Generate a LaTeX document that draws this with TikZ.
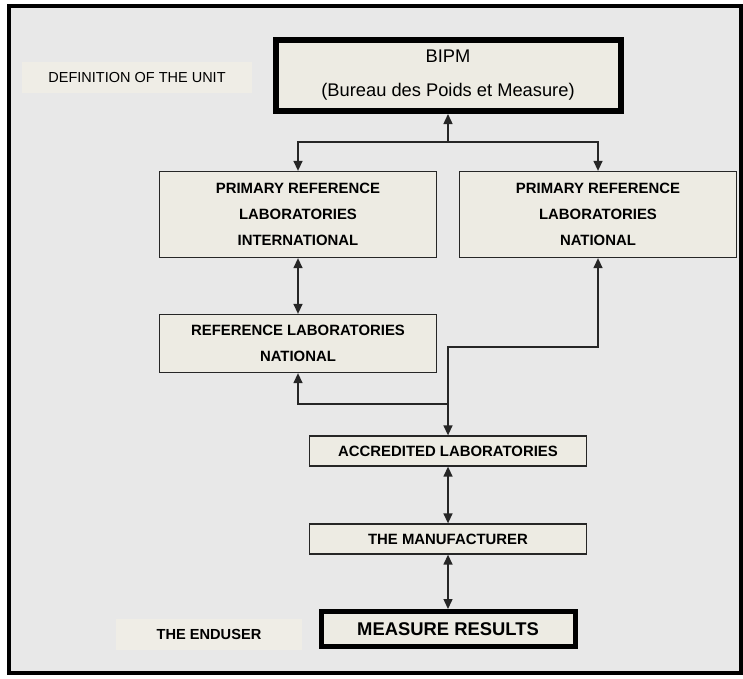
\documentclass[tikz,border=0pt]{standalone}
\usepackage{fontspec}
\setmainfont{Liberation Sans}
\usetikzlibrary{arrows.meta}

\definecolor{panel}{HTML}{E8E8E8}
\definecolor{boxfill}{HTML}{EDEBE3}
\definecolor{tagfill}{HTML}{EFEDE6}

\begin{document}
\begin{tikzpicture}[x=1pt, y=-1pt,
		lab/.style={rectangle, draw=black!85, line width=1.3pt, fill=boxfill, inner sep=0pt, minimum width=277pt, align=center, font=\fontsize{14.9}{26}\selectfont\bfseries},
		heavy/.style={lab, draw=black, line width=5pt},
		tag/.style={rectangle, fill=tagfill, inner sep=0pt, minimum height=31pt},
		link/.style={line width=1.4pt, draw=black!85, -{Triangle[length=10pt,width=9pt]}},
		twoway/.style={link, {Triangle[length=10pt,width=9pt]}-{Triangle[length=10pt,width=9pt]}}]
			% Frame
			\useasboundingbox (0,0) rectangle (743,678);
			\fill[white] (0,0) rectangle (743,678);
			\draw[line width=4pt, fill=panel] (9,6) rectangle (741,673);
			
			% Nodes
			\node[heavy, line width=6pt, minimum width=345pt, minimum height=71pt, font=\fontsize{18.3}{34}\selectfont] (bipm) at (448,75.5) {BIPM\\(Bureau des Poids et Measure)};
			\node[tag, minimum width=230pt, font=\fontsize{14.5}{17}\selectfont] (unit) at (137,77.5) {DEFINITION OF THE UNIT};
			\node[lab, minimum height=86pt] (intl) at (298,214.5) {PRIMARY REFERENCE\\LABORATORIES\\INTERNATIONAL};
			\node[lab, minimum height=86pt] (natl) at (598,214.5) {PRIMARY REFERENCE\\LABORATORIES\\NATIONAL};
			\node[lab, minimum height=58pt] (reflab) at (298,343.5) {REFERENCE LABORATORIES\\NATIONAL};
			\node[lab, minimum height=30pt] (accr) at (448,451) {ACCREDITED LABORATORIES};
			\node[lab, minimum height=30pt] (maker) at (448,539) {THE MANUFACTURER};
			\node[heavy, minimum width=254pt, minimum height=35pt, font=\fontsize{18.4}{20}\selectfont\bfseries] (result) at (448,629) {MEASURE RESULTS};
			\node[tag, minimum width=186pt, font=\fontsize{14.6}{17}\selectfont\bfseries] (enduser) at (209,634.5) {THE ENDUSER};
			
			% Edges
			\coordinate (fork) at (448,142);
			\coordinate (turn) at (448,347);
			\coordinate (split) at (448,404);
			\draw[link] (fork) -- (bipm.south);
			\draw[link] (fork) -| (intl.north);
			\draw[link] (fork) -| (natl.north);
			\draw[twoway] (intl.south) -- (reflab.north);
			\draw[twoway] (accr.north) -- (turn) -| (natl.south);
			\draw[link] (split) -| (reflab.south);
			\draw[twoway] (accr.south) -- (maker.north);
			\draw[twoway] (maker.south) -- (result.north);
		\end{tikzpicture}
\end{document}
